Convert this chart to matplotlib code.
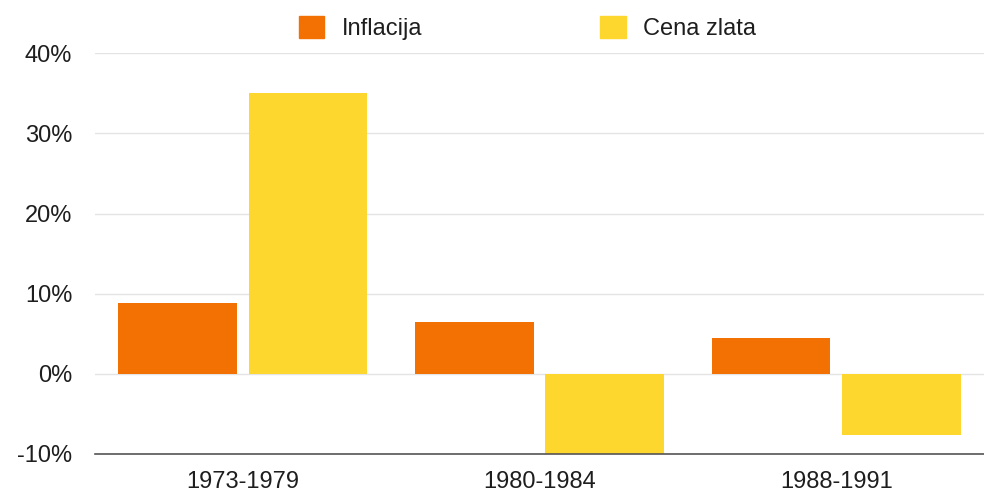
import numpy as np
import matplotlib.pyplot as plt
from matplotlib.patches import Patch

plt.rcParams['font.family'] = ['Liberation Sans', 'DejaVu Sans']

# data
periods = ['1973-1979', '1980-1984', '1988-1991']
inflacija = [8.8, 6.5, 4.5]
cena_zlata = [35.0, -10.0, -7.6]
series_names = ['Inflacija', 'Cena zlata']
yticks = [-10, 0, 10, 20, 30, 40]

orange = '#F27102'
yellow = '#FDD62E'
text_col = '#1e1e1e'

fig = plt.figure(figsize=(9.84, 4.95), dpi=100)
ax = fig.add_axes([94.5 / 984, 41 / 495, 890 / 984, 400.8 / 495])

x = np.arange(len(periods))
w = 0.40
off = 0.22
ax.bar(x - off, inflacija, w, color=orange, zorder=3)
ax.bar(x + off, cena_zlata, w, color=yellow, zorder=3)

ax.set_xlim(-0.5, 2.5)
ax.set_ylim(-10, 40)
ax.set_yticks(yticks)
ax.set_yticklabels(['%d%%' % t for t in yticks])
ax.set_xticks(x)
ax.set_xticklabels(periods)
ax.tick_params(axis='y', length=0, pad=16, labelsize=17, labelcolor=text_col)
ax.tick_params(axis='x', length=0, pad=12, labelsize=17, labelcolor=text_col)

ax.grid(axis='y', color='#e4e4e4', lw=1.0, zorder=0)
for s in ['top', 'right', 'left']:
    ax.spines[s].set_visible(False)
ax.spines['bottom'].set_color('#555555')
ax.spines['bottom'].set_linewidth(1.2)
ax.spines['bottom'].set_zorder(4)

handles = [Patch(color=orange), Patch(color=yellow)]
fig.legend(handles, series_names, loc='center', ncol=2, frameon=False,
           bbox_to_anchor=(527.5 / 984, 1 - 28 / 495), fontsize=17,
           handlelength=1.1, handleheight=1.1, handletextpad=0.75,
           columnspacing=7.5, borderpad=0, labelcolor=text_col)

fig.savefig('out.png', dpi=100)
